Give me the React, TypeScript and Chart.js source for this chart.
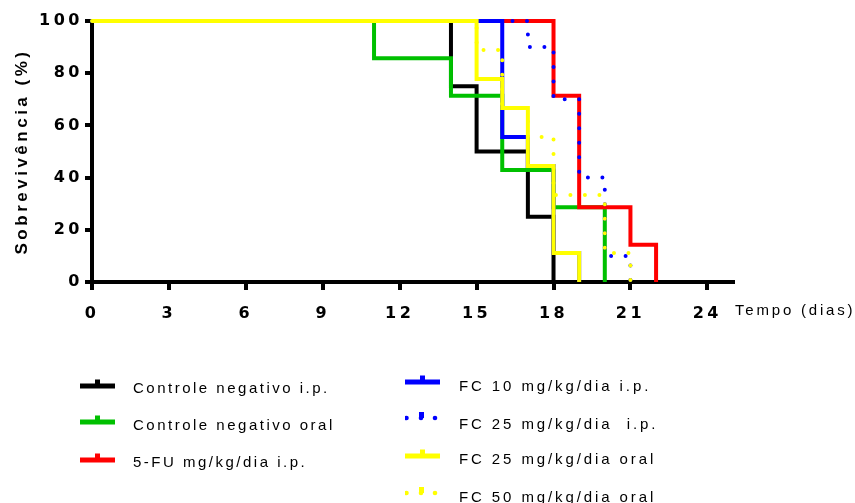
import React, { useEffect, useRef } from "react";
import { Chart, registerables } from "chart.js";

Chart.register(...registerables);

// ---- Data (Kaplan–Meier steps: day of drop, survival % after drop) ----
const xTickValues = [0, 3, 6, 9, 12, 15, 18, 21, 24];
const yTickValues = [0, 20, 40, 60, 80, 100];

const seriesNames = [
  "Controle negativo i.p.",
  "Controle negativo oral",
  "5-FU mg/kg/dia i.p.",
  "FC 10 mg/kg/dia i.p.",
  "FC 25 mg/kg/dia  i.p.",
  "FC 25 mg/kg/dia oral",
  "FC 50 mg/kg/dia oral",
];

const ctrlIpDays = [0, 14, 15, 17, 18];
const ctrlIpSurv = [100, 75, 50, 25, 0];

const ctrlOralDays = [0, 11, 14, 16, 18, 20];
const ctrlOralSurv = [100, 85.7, 71.4, 42.9, 28.6, 0];

const fuDays = [0, 18, 19, 21, 22];
const fuSurv = [100, 71.4, 28.6, 14.3, 0];

const fc10IpDays = [0, 16, 17, 18, 19];
const fc10IpSurv = [100, 55.6, 44.4, 11.1, 0];

const fc25IpDays = [0, 17, 18, 19, 20, 21];
const fc25IpSurv = [100, 90, 70, 40, 10, 0];

const fc25OralDays = [0, 15, 16, 17, 18, 19];
const fc25OralSurv = [100, 77.8, 66.7, 44.4, 11.1, 0];

const fc50OralDays = [0, 15, 16, 17, 18, 20, 21];
const fc50OralSurv = [100, 88.9, 66.7, 55.6, 33.3, 11.1, 0];

const BLACK = "#000000";
const GREEN = "#00C000";
const RED = "#FF0000";
const BLUE = "#0000FF";
const YELLOW = "#FFFF00";

const toPts = (xs: number[], ys: number[]) => xs.map((x, i) => ({ x, y: ys[i] }));

const solid = (label: string, color: string, xs: number[], ys: number[]) => ({
  label,
  data: toPts(xs, ys),
  borderColor: color,
  backgroundColor: color,
  borderWidth: 4,
  stepped: "before" as const,
  pointRadius: 0,
  borderJoinStyle: "miter" as const,
  borderCapStyle: "butt" as const,
  fill: false,
  clip: false as const,
});

const dotted = (label: string, color: string, xs: number[], ys: number[]) => ({
  ...solid(label, color, xs, ys),
  borderWidth: 4,
  borderDash: [0, 14.5],
  borderCapStyle: "round" as const,
  borderJoinStyle: "round" as const,
});

const extrasPlugin = {
  id: "extras",
  beforeDraw(chart: any) {
    chart.ctx.letterSpacing = "3.5px";
  },
  afterDraw(chart: any) {
    const ctx = chart.ctx;
    ctx.save();
    ctx.letterSpacing = "2.8px";
    ctx.font = "15px 'Liberation Sans', Arial, sans-serif";
    ctx.fillStyle = "#000";
    ctx.textAlign = "left";
    ctx.textBaseline = "middle";
    ctx.fillText("Tempo (dias)", chart.chartArea.right + 2, chart.chartArea.bottom + 29);
    ctx.restore();
    ctx.letterSpacing = "0px";
  },
};

function Marker({ color, dots }: { color: string; dots: boolean }) {
  return (
    <svg width={36} height={14} style={{ display: "block" }}>
      {dots ? (
        <>
          <circle cx={1.5} cy={9} r={2.3} fill={color} />
          <circle cx={16} cy={9} r={2.3} fill={color} />
          <rect x={14} y={3} width={5} height={6} fill={color} />
          <circle cx={30} cy={9} r={2.3} fill={color} />
        </>
      ) : (
        <>
          <rect x={0} y={6.5} width={35} height={5} fill={color} />
          <rect x={15} y={2.5} width={5} height={5} fill={color} />
        </>
      )}
    </svg>
  );
}

const legendItems = [
  { name: seriesNames[0], color: BLACK, dots: false, mx: 80, my: 385.5, tx: 133, ty: 380, ls: 2.5 },
  { name: seriesNames[1], color: GREEN, dots: false, mx: 80, my: 422, tx: 133, ty: 417, ls: 2.5 },
  { name: seriesNames[2], color: RED, dots: false, mx: 80, my: 459.5, tx: 133, ty: 454, ls: 2.5 },
  { name: seriesNames[3], color: BLUE, dots: false, mx: 405, my: 382, tx: 459, ty: 378, ls: 2.9 },
  { name: seriesNames[4], color: BLUE, dots: true, mx: 405, my: 418, tx: 459, ty: 416, ls: 2.9 },
  { name: seriesNames[5], color: YELLOW, dots: false, mx: 405, my: 455.5, tx: 459, ty: 451, ls: 2.9 },
  { name: seriesNames[6], color: YELLOW, dots: true, mx: 405, my: 493, tx: 459, ty: 489, ls: 2.9 },
];

export default function App() {
  const canvasRef = useRef<HTMLCanvasElement | null>(null);

  useEffect(() => {
    const canvas = canvasRef.current;
    if (!canvas) return;
    const tickFont = { family: "'DejaVu Sans', sans-serif", size: 16, weight: "bold" as const };

    // dataset index 0 is painted last (on top)
    const chart = new Chart(canvas, {
      type: "line",
      data: {
        datasets: [
          solid(seriesNames[5], YELLOW, fc25OralDays, fc25OralSurv),
          dotted(seriesNames[6], YELLOW, fc50OralDays, fc50OralSurv),
          dotted(seriesNames[4], BLUE, fc25IpDays, fc25IpSurv),
          solid(seriesNames[3], BLUE, fc10IpDays, fc10IpSurv),
          solid(seriesNames[2], RED, fuDays, fuSurv),
          solid(seriesNames[1], GREEN, ctrlOralDays, ctrlOralSurv),
          solid(seriesNames[0], BLACK, ctrlIpDays, ctrlIpSurv),
        ] as any,
      },
      options: {
        responsive: false,
        animation: false,
        devicePixelRatio: 1,
        layout: { padding: { left: 0, right: 122, top: 21, bottom: 0 } },
        plugins: {
          legend: { display: false },
          tooltip: { enabled: false },
        },
        scales: {
          x: {
            type: "linear",
            min: 0,
            max: 25,
            afterBuildTicks: (scale: any) => {
              scale.ticks = xTickValues.map((v) => ({ value: v }));
            },
            afterFit: (scale: any) => {
              scale.height = 221;
            },
            ticks: {
              color: "#000",
              font: tickFont,
              padding: 14,
              maxRotation: 0,
              autoSkip: false,
            },
            grid: {
              display: true,
              drawOnChartArea: false,
              drawTicks: true,
              tickLength: 8,
              tickWidth: 4,
              tickColor: "#000",
              color: "#000",
              lineWidth: 4,
            },
            border: { display: true, color: "#000", width: 4 },
          },
          y: {
            type: "linear",
            min: 0,
            max: 100,
            afterBuildTicks: (scale: any) => {
              scale.ticks = yTickValues.map((v) => ({ value: v }));
            },
            afterFit: (scale: any) => {
              scale.width = 92;
            },
            ticks: {
              color: "#000",
              font: tickFont,
              padding: 2,
              autoSkip: false,
            },
            grid: {
              display: true,
              drawOnChartArea: false,
              drawTicks: true,
              tickLength: 7,
              tickWidth: 4,
              tickColor: "#000",
              color: "#000",
              lineWidth: 4,
            },
            border: { display: true, color: "#000", width: 4 },
            title: {
              display: true,
              text: "Sobrevivência (%)",
              color: "#000",
              font: { family: "'Liberation Sans', Arial, sans-serif", size: 17, weight: "bold" },
              padding: { top: 12, bottom: 0 },
            },
          },
        },
      },
      plugins: [extrasPlugin],
    });

    return () => chart.destroy();
  }, []);

  return (
    <div
      style={{
        position: "fixed",
        left: 0,
        top: 0,
        width: 855,
        height: 503,
        background: "#fff",
        overflow: "hidden",
      }}
    >
      <canvas
        ref={canvasRef}
        width={855}
        height={503}
        style={{ position: "absolute", left: 0, top: 0, width: 855, height: 503 }}
      />
      {legendItems.map((it, i) => (
        <React.Fragment key={i}>
          <div style={{ position: "absolute", left: it.mx, top: it.my - 9 }}>
            <Marker color={it.color} dots={it.dots} />
          </div>
          <div
            style={{
              position: "absolute",
              left: it.tx,
              top: it.ty,
              fontFamily: "'Liberation Sans', Arial, sans-serif",
              fontSize: 15,
              lineHeight: "15px",
              letterSpacing: `${it.ls}px`,
              whiteSpace: "pre",
              color: "#000",
            }}
          >
            {it.name}
          </div>
        </React.Fragment>
      ))}
    </div>
  );
}
